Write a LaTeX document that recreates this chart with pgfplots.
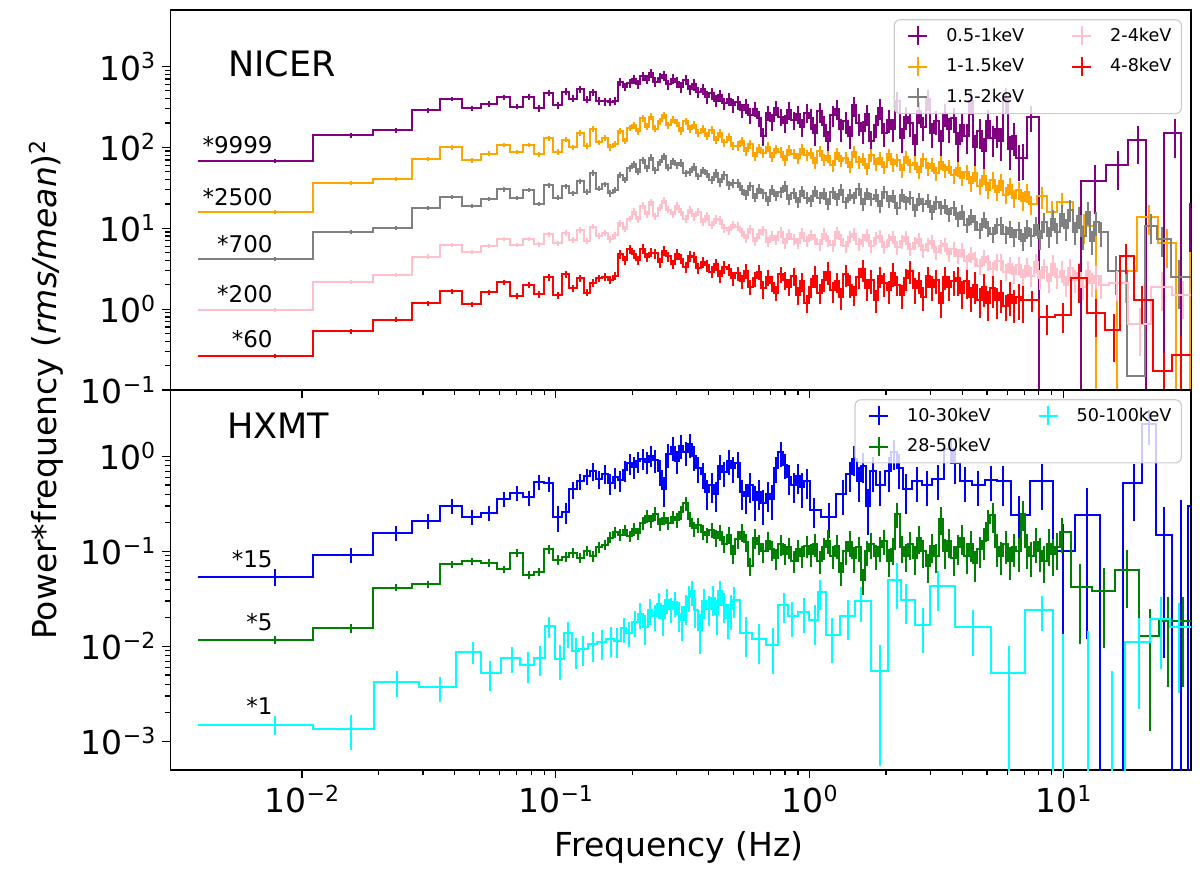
\documentclass[border=0pt]{standalone}
\usepackage{fontspec}
\setmainfont{DejaVu Sans}
\usepackage{pgfplots}
\usepackage{pgfplotstable}
\pgfplotsset{compat=1.18}
\definecolor{mpurple}{HTML}{800080}
\definecolor{morange}{HTML}{FFA500}
\definecolor{mgray}{HTML}{808080}
\definecolor{mpink}{HTML}{FFC0CB}
\definecolor{mred}{HTML}{FF0000}
\definecolor{mblue}{HTML}{0000FF}
\definecolor{mgreen}{HTML}{008000}
\definecolor{mcyan}{HTML}{00FFFF}
\newcommand{\tl}[1]{10\raisebox{0.34em}{\fontsize{11}{12}\selectfont #1}}

\pgfplotsset{
  psd/.style={const plot mark mid, mark=none, line width=1pt, forget plot,
    error bars/y dir=both, error bars/y explicit relative, error bars/error mark=none,
    error bars/error bar style={line width=1pt, solid}},
  negerr/.style={only marks, mark=none, forget plot,
    error bars/y dir=plus, error bars/y explicit, error bars/error mark=none,
    error bars/error bar style={line width=1pt, solid}},
  pluslegend/.style={legend image code/.code={
    \draw[line width=1pt] (0pt,0pt) -- (9.5pt,0pt);
    \draw[line width=1pt] (4.75pt,-4.75pt) -- (4.75pt,4.75pt);
    \path[draw=none, fill=none] (-4pt,0pt) -- (17pt,0pt);}},
}

\pgfplotstableread{
f pu or gr pk rd ra rb
0.0039 68 15.9 4.13 0.98 0.264 0 0
0.0078 68 15.9 4.13 0.98 0.264 0.07 0.06
0.0156 141 36.4 9.0 2.18 0.53 0.07 0.06
0.0234 163 41 10.1 2.64 0.74 0.07 0.06
0.0313 286 72 17.8 4.47 1.19 0.07 0.06
0.0391 398 100 24.4 6.24 1.66 0.07 0.06
0.0469 305 69 18.9 5.15 1.15 0.07 0.06
0.0547 345 84 23.2 6.0 1.61 0.08 0.06
0.0625 416 107 30.3 7.4 2.15 0.08 0.06
0.0703 320 87 23.7 6.2 1.47 0.08 0.06
0.0781 424 107 30 7.4 1.99 0.08 0.06
0.0859 305 82 20 6.3 1.53 0.09 0.07
0.0938 475 129 34 8.5 2.48 0.09 0.07
0.1016 335 88 24 6.5 1.5 0.10 0.08
0.1094 490 125 33 8.8 2.7 0.10 0.08
0.1172 400 100 27 7.2 1.8 0.10 0.08
0.1250 520 150 38 9.5 2.4 0.10 0.08
0.1328 390 105 28 7.0 1.6 0.10 0.08
0.1406 480 170 48 10.5 2.1 0.11 0.08
0.1484 380 115 31 8.0 2.4 0.11 0.08
0.1563 370 130 35 8.8 2.5 0.11 0.08
0.1641 365 100 27 7.3 2.3 0.11 0.09
0.1719 375 110 30 8.2 2.6 0.12 0.09
0.1797 650 160 46 11.5 4.8 0.12 0.09
0.1875 560 120 40 9.8 4.0 0.12 0.09
0.1953 620 175 55 13 5.5 0.12 0.09
0.203 700 190 62 16 4.8 0.13 0.10
0.211 610 160 50 13 4.0 0.13 0.10
0.220 760 230 70 19 5.6 0.13 0.10
0.228 690 180 55 15 4.4 0.13 0.10
0.237 820 240 75 21 5.0 0.13 0.10
0.247 650 170 52 14 4.9 0.14 0.10
0.257 720 210 66 18 3.8 0.14 0.10
0.267 780 250 78 22 5.3 0.14 0.10
0.278 600 190 56 17 4.5 0.14 0.10
0.289 700 220 68 15 3.6 0.14 0.10
0.300 640 200 60 19 4.8 0.15 0.11
0.312 560 160 64 16 4.2 0.15 0.11
0.325 690 210 48 13 3.3 0.15 0.11
0.338 520 170 50 17 4.5 0.15 0.11
0.351 600 190 58 14 4.4 0.16 0.11
0.365 480 150 44 16 3.2 0.16 0.11
0.380 530 170 52 12 3.8 0.16 0.11
0.395 420 140 47 14 3.5 0.17 0.12
0.411 470 165 40 11 2.9 0.17 0.12
0.427 380 125 48 13 3.6 0.17 0.12
0.444 440 150 37 12.5 2.6 0.18 0.12
0.462 350 115 45 10 3.3 0.18 0.12
0.480 400 135 34 9.5 3.1 0.18 0.12
0.500 330 105 36 11 2.4 0.19 0.12
0.520 360 105 36 10.5 2.8 0.20 0.13
0.540 290 120 30 9.0 2.2 0.20 0.13
0.562 330 90 26 7.5 3.0 0.21 0.13
0.584 250 110 33 9.8 1.9 0.22 0.13
0.608 300 78 24 7.0 2.4 0.21 0.13
0.632 230 98 31 8.6 2.9 0.22 0.14
0.657 140 85 27 9.4 1.8 0.25 0.14
0.684 270 102 22 6.8 2.5 0.22 0.14
0.711 210 76 30 8.0 2.1 0.23 0.14
0.739 310 95 25 7.2 1.6 0.22 0.14
0.769 240 88 28 9.0 2.7 0.23 0.15
0.800 200 70 33 6.6 2.3 0.24 0.15
0.832 290 92 23 8.4 1.9 0.24 0.15
0.865 220 84 27 7.4 2.6 0.25 0.15
0.900 260 74 21 6.5 1.5 0.25 0.15
0.936 180 96 29 8.8 2.2 0.26 0.16
0.973 270 80 24 7.0 1.2 0.26 0.16
1.012 230 85 22 8.2 1.9 0.28 0.16
1.053 150 65 29 7.4 2.6 0.30 0.16
1.095 280 90 24 6.3 1.6 0.28 0.16
1.139 190 70 27 8.6 2.3 0.29 0.17
1.184 120 78 20 7.0 2.9 0.32 0.17
1.232 250 60 28 6.2 1.7 0.29 0.17
1.281 300 85 23 8.9 2.2 0.28 0.17
1.332 170 68 30 7.3 1.4 0.31 0.17
1.385 210 75 21 6.0 2.7 0.30 0.17
1.441 140 58 26 7.9 2.0 0.32 0.17
1.499 330 88 24 8.5 1.5 0.28 0.17
1.559 200 66 31 6.4 2.5 0.30 0.18
1.621 160 72 20 7.1 3.1 0.31 0.18
1.686 260 55 27 8.3 1.8 0.30 0.18
1.753 120 80 23 6.1 2.3 0.33 0.18
1.823 190 63 26 7.6 1.3 0.31 0.18
1.896 310 74 19 8.0 2.6 0.29 0.18
1.972 150 57 28 5.9 2.1 0.32 0.18
2.051 220 82 22 7.2 1.7 0.31 0.18
2.133 170 62 25 7.8 2.8 0.32 0.19
2.218 380 70 18 5.8 2.0 0.28 0.19
2.307 130 52 26 6.9 1.5 0.34 0.19
2.399 240 76 21 7.7 2.4 0.31 0.19
2.495 200 60 24 5.6 3.0 0.32 0.19
2.595 110 65 17 6.6 1.8 0.35 0.19
2.699 280 50 23 7.3 2.2 0.31 0.19
2.807 180 72 20 5.4 1.4 0.33 0.20
2.919 400 55 22 6.3 2.6 0.29 0.20
3.036 150 62 16 6.9 1.9 0.34 0.20
3.157 210 48 21 5.1 2.3 0.33 0.20
3.283 120 66 18 6.0 1.2 0.36 0.20
3.415 260 52 19 6.4 2.5 0.32 0.20
3.551 170 58 15 4.8 1.9 0.34 0.20
3.693 230 45 18 5.6 2.2 0.34 0.21
3.841 110 55 13 4.6 2.4 0.40 0.21
3.995 190 42 16 5.4 1.6 0.38 0.21
4.155 140 50 11 3.9 2.2 0.40 0.21
4.321 380 36 14 4.8 1.4 0.34 0.22
4.494 100 48 12 4.2 2.0 0.42 0.22
4.673 160 33 9.5 3.4 1.3 0.40 0.22
4.860 90 44 13 4.4 1.9 0.44 0.22
5.055 210 30 10 3.8 1.2 0.40 0.23
5.257 130 40 8.5 3.1 1.8 0.42 0.23
5.467 170 28 11 3.9 1.3 0.42 0.23
5.686 120 38 11 3.9 1.6 0.44 0.24
5.913 400 26 8.5 2.9 1.1 0.35 0.24
6.150 95 34 10 3.6 1.5 0.45 0.24
6.396 140 24 7.8 2.7 1.2 0.44 0.25
6.652 73 30 9.5 3.5 1.4 0.48 0.25
6.918 75 22 7 2.5 1.3 0.48 0.26
7.195 nan 28 10 3.4 nan 0.4 0.26
7.482 nan 20 8 2.6 nan 0.4 0.27
7.782 nan nan 11 3.8 nan 0.4 0.27
8.093 nan nan 7.5 2.4 nan 0.4 0.28
8.417 nan nan 12 3.3 nan 0.4 0.28
8.753 nan nan 8 2.2 nan 0.4 0.28
9.104 nan nan 13 3.6 nan 0.4 0.29
9.468 nan nan 9 2.5 nan 0.4 0.29
9.846 nan nan 15 3.0 nan 0.4 0.30
10.24 nan nan 10 2.0 nan 0.4 0.30
10.65 nan nan 17 3.2 nan 0.4 0.30
11.08 nan nan 9 2.3 nan 0.4 0.31
11.52 nan nan 14 2.8 nan 0.4 0.31
11.98 nan nan 8 1.9 nan 0.4 0.32
12.46 nan nan 16 3.0 nan 0.4 0.32
12.96 nan nan 7 2.1 nan 0.4 0.33
13.48 nan nan 12 2.6 nan 0.4 0.33
14.02 nan nan 9 2.0 nan 0.4 0.34
}\nicer

\pgfplotstableread{
f y r
6.918 75 0
7.45 240 0.35
8.6 0.001 0
10.4 0.001 0
13.3 38 0.6
16.4 60 0.5
19.7 123 0.5
22.8 0.001 0
27.4 149 0.5
30.6 0.001 0
32.5 20 0
}\putail
\pgfplotstableread{
f y r
7.482 20 0
8.2 25 0.3
9.0 16 0.35
9.9 21 0.3
12.1 10.7 0.4
15.0 0.001 0
17.6 3.0 0.6
21.7 13.8 0.4
25.5 6.5 0.5
30.0 0.001 0
33 5 0
}\ortail
\pgfplotstableread{
f y r
14.02 9 0
16.1 3.0 0.5
19.6 0.15 0
22.2 10.7 0.4
24.5 7.4 0.4
28.5 2.5 0.6
33 2.5 0
}\grtail
\pgfplotstableread{
f y r
14.02 2.0 0
16.2 2.1 0.4
20.0 0.65 0.6
24.5 1.9 0.5
29.5 1.5 0.5
33 1.5 0
}\pktail
\pgfplotstableread{
f y r
6.918 1.3 0
7.5 1.3 0.3
8.6 0.8 0.4
10.0 0.85 0.4
11.5 2.4 0.5
13.4 0.9 0.5
15.8 0.55 0.6
17.6 4.5 0.4
20.3 1.3 0.5
24.8 0.17 0.7
29.0 0.27 0.7
33 0.27 0
}\rdtail

\pgfplotstableread{
f y r
0.0039 0.054 0
0.0078 0.054 0.2
0.0156 0.092 0.18
0.0234 0.156 0.18
0.0313 0.211 0.18
0.0391 0.30 0.18
0.0469 0.233 0.18
0.0547 0.255 0.18
0.0625 0.36 0.18
0.0703 0.41 0.18
0.0781 0.37 0.18
0.0859 0.54 0.18
0.0938 0.52 0.18
0.1016 0.23 0.3
0.1094 0.26 0.25
0.1172 0.45 0.2
0.1250 0.55 0.2
0.1328 0.62 0.2
0.1406 0.7 0.22
0.1484 0.58 0.22
0.1563 0.66 0.22
0.1641 0.52 0.25
0.1719 0.6 0.25
0.1797 0.56 0.25
0.1875 0.72 0.25
0.1953 0.85 0.25
0.203 0.78 0.25
0.211 0.9 0.25
0.220 0.95 0.25
0.228 0.88 0.25
0.237 1.02 0.25
0.247 0.92 0.28
0.257 0.7 0.3
0.267 0.45 0.35
0.278 1.05 0.28
0.289 1.25 0.28
0.300 0.9 0.28
0.312 1.3 0.28
0.325 1.1 0.28
0.338 1.35 0.28
0.351 1.0 0.3
0.365 0.75 0.3
0.380 0.65 0.3
0.395 0.42 0.35
0.411 0.5 0.35
0.427 0.4 0.35
0.444 0.8 0.3
0.462 0.68 0.3
0.480 0.9 0.3
0.500 0.75 0.3
0.520 0.85 0.3
0.540 0.42 0.35
0.562 0.38 0.35
0.584 0.5 0.35
0.608 0.35 0.4
0.632 0.42 0.35
0.657 0.32 0.4
0.684 0.4 0.35
0.711 0.36 0.4
0.739 0.75 0.3
0.769 1.1 0.3
0.800 0.82 0.3
0.832 0.6 0.35
0.865 0.5 0.35
0.900 0.62 0.35
0.936 0.48 0.4
0.973 0.55 0.35
1.04 0.27 0.35
1.19 0.23 0.4
1.35 0.4 0.4
1.44 0.65 0.35
1.5 0.95 0.35
1.57 0.55 0.4
1.63 0.8 0.35
1.7 0.3 0.5
1.77 0.7 0.4
1.9 0.5 0.4
2.05 0.7 0.4
2.15 1.1 0.35
2.25 0.75 0.4
2.4 0.45 0.45
2.65 0.55 0.4
2.9 0.5 0.4
3.2 0.58 0.4
3.6 1.2 0.3
3.75 0.85 0.4
4.1 0.55 0.4
4.6 0.5 0.4
5.2 0.56 0.4
5.8 0.55 0.45
6.7 0.24 0.6
8.2 0.55 0.5
10.0 0.1 0.95
12.4 0.24 0.95
15.6 0.00001 0
19.0 0.52 0.6
21.7 2.2 0.4
24.8 0.15 0.95
29.0 0.00001 0
33 0.3 0
}\blue

\pgfplotstableread{
f y r
0.0039 0.0118 0
0.0078 0.0118 0.1
0.0156 0.0155 0.1
0.0234 0.0416 0.08
0.0313 0.045 0.08
0.0391 0.073 0.08
0.0469 0.079 0.08
0.0547 0.076 0.09
0.0625 0.065 0.09
0.0703 0.097 0.1
0.0781 0.057 0.1
0.0859 0.061 0.1
0.0938 0.105 0.1
0.1016 0.082 0.12
0.1094 0.088 0.12
0.1172 0.097 0.12
0.1250 0.086 0.12
0.1328 0.102 0.12
0.1406 0.09 0.13
0.1484 0.11 0.13
0.1563 0.118 0.13
0.1641 0.14 0.13
0.1719 0.16 0.13
0.1797 0.15 0.14
0.1875 0.168 0.14
0.1953 0.145 0.14
0.203 0.172 0.15
0.211 0.155 0.15
0.220 0.2 0.15
0.228 0.235 0.15
0.237 0.21 0.15
0.247 0.25 0.16
0.257 0.195 0.16
0.267 0.225 0.16
0.278 0.2 0.16
0.289 0.23 0.16
0.300 0.215 0.17
0.312 0.26 0.17
0.325 0.32 0.17
0.338 0.22 0.17
0.351 0.175 0.18
0.365 0.19 0.18
0.380 0.16 0.18
0.395 0.15 0.18
0.411 0.17 0.18
0.427 0.14 0.2
0.444 0.16 0.2
0.462 0.12 0.2
0.480 0.15 0.2
0.500 0.095 0.22
0.520 0.135 0.22
0.540 0.16 0.22
0.562 0.125 0.22
0.584 0.07 0.22
0.608 0.14 0.24
0.632 0.12 0.24
0.657 0.1 0.24
0.684 0.13 0.24
0.711 0.105 0.24
0.739 0.085 0.25
0.769 0.12 0.25
0.800 0.095 0.25
0.832 0.11 0.25
0.865 0.08 0.25
0.900 0.105 0.26
0.936 0.09 0.26
0.973 0.115 0.26
1.012 0.095 0.27
1.053 0.12 0.27
1.095 0.08 0.27
1.139 0.11 0.27
1.184 0.13 0.28
1.232 0.09 0.28
1.281 0.115 0.28
1.332 0.06 0.28
1.385 0.1 0.28
1.441 0.125 0.3
1.499 0.085 0.3
1.559 0.11 0.3
1.621 0.05 0.3
1.686 0.1 0.3
1.753 0.12 0.3
1.823 0.09 0.3
1.896 0.11 0.3
1.972 0.13 0.3
2.051 0.08 0.32
2.133 0.105 0.32
2.218 0.25 0.3
2.307 0.11 0.32
2.399 0.09 0.32
2.495 0.12 0.32
2.595 0.085 0.33
2.699 0.14 0.33
2.807 0.1 0.33
2.919 0.07 0.34
3.036 0.115 0.34
3.157 0.09 0.34
3.283 0.22 0.32
3.415 0.1 0.34
3.551 0.13 0.34
3.693 0.085 0.35
3.841 0.11 0.35
3.995 0.14 0.35
4.155 0.09 0.36
4.321 0.12 0.36
4.494 0.075 0.36
4.673 0.105 0.36
4.860 0.13 0.37
5.055 0.2 0.35
5.257 0.24 0.35
5.467 0.11 0.37
5.686 0.09 0.38
5.913 0.12 0.38
6.150 0.08 0.38
6.396 0.11 0.38
6.652 0.1 0.4
6.918 0.25 0.35
7.195 0.11 0.4
7.482 0.09 0.4
7.782 0.125 0.4
8.093 0.1 0.4
8.417 0.08 0.42
8.753 0.12 0.42
9.104 0.095 0.42
9.468 0.11 0.42
9.846 0.16 0.4
11.6 0.0426 0.75
14.4 0.0385 0.75
17.8 0.064 0.6
22.0 0.0129 0.9
25.7 0.0186 0.8
29.5 0.0186 0.8
33 0.0186 0
}\green

\pgfplotstableread{
f y r
0.0039 0.0015 0
0.0078 0.0015 0.22
0.0156 0.00134 0.4
0.0237 0.0042 0.3
0.035 0.0037 0.3
0.047 0.0088 0.25
0.055 0.0052 0.35
0.067 0.0075 0.3
0.078 0.0064 0.35
0.087 0.0075 0.35
0.094 0.0164 0.25
0.104 0.0074 0.4
0.112 0.0138 0.3
0.12 0.009 0.35
0.128 0.0095 0.35
0.14 0.0105 0.35
0.152 0.011 0.35
0.165 0.012 0.35
0.175 0.0115 0.35
0.185 0.0155 0.3
0.195 0.014 0.3
0.205 0.018 0.3
0.215 0.022 0.3
0.225 0.016 0.35
0.235 0.024 0.3
0.245 0.021 0.3
0.255 0.028 0.3
0.265 0.02 0.35
0.275 0.031 0.3
0.285 0.025 0.3
0.295 0.029 0.3
0.305 0.022 0.35
0.315 0.019 0.4
0.325 0.026 0.35
0.335 0.033 0.3
0.345 0.038 0.3
0.355 0.024 0.35
0.37 0.015 0.45
0.385 0.03 0.35
0.40 0.025 0.35
0.415 0.032 0.35
0.43 0.022 0.4
0.445 0.038 0.3
0.46 0.027 0.35
0.475 0.02 0.4
0.49 0.025 0.4
0.505 0.031 0.35
0.56 0.014 0.45
0.63 0.012 0.45
0.715 0.0103 0.5
0.79 0.027 0.35
0.85 0.021 0.4
0.95 0.023 0.4
1.05 0.019 0.45
1.1 0.037 0.35
1.23 0.0133 0.5
1.42 0.021 0.45
1.6 0.03 0.4
1.9 0.0055 0.9
2.2 0.05 0.5
2.4 0.031 0.45
2.8 0.017 0.5
3.2 0.043 0.45
4.4 0.016 0.5
6.1 0.0052 0.95
8.2 0.024 0.4
10.0 0.00001 0
12.5 0.00001 0
15.5 0.00001 0
19.8 0.011 0.8
24.3 0.0194 0.7
28.5 0.016 0.8
33 0.016 0
}\cyan

\pgfplotstableread{
f y e
10.0 0.00001 0.0134
12.5 0.00001 0.0145
15.5 0.00001 0.0055
}\cyanneg
\pgfplotstableread{
f y e
29.0 0.00001 0.35
}\blueneg

\begin{document}
\begin{tikzpicture}
\useasboundingbox (0,0) rectangle (600pt,440pt);
% ---------------- NICER ----------------
\begin{axis}[scale only axis, width=510.35pt, height=190pt,
  at={(85.15pt,245pt)}, anchor=south west,
  xmode=log, ymode=log, xmin=0.00303, xmax=31.8,
  ymin=0.1, ymax=5000,
  tick pos=left, tick align=outside,
  major tick length=4pt, minor tick length=2.5pt,
  tick style={black, line width=0.6pt},
  axis line style={line width=0.7pt},
  tick label style={font=\fontsize{16.5}{19}\selectfont},
  xtick={0.01,0.1,1,10}, xticklabels={,,,},
  ytick={0.1,1,10,100,1000},
  yticklabels={\tl{−1},\tl{0},\tl{1},\tl{2},\tl{3}},
  legend columns=2, legend cell align=left,
  legend style={at={(0.9912,0.976)}, anchor=north east,
    font=\fontsize{8.8}{10}\selectfont, draw=black!20, line width=0.6pt,
    rounded corners=3pt, fill=white, fill opacity=0.8, draw opacity=1,
    text opacity=1, inner xsep=3pt, inner ysep=2pt, row sep=3.2pt,
    /tikz/every even column/.append style={column sep=18pt}},
  ]
\addlegendimage{mpurple, pluslegend}\addlegendentry{0.5-1keV}
\addlegendimage{mpink, pluslegend}\addlegendentry{2-4keV}
\addlegendimage{morange, pluslegend}\addlegendentry{1-1.5keV}
\addlegendimage{mred, pluslegend}\addlegendentry{4-8keV}
\addlegendimage{mgray, pluslegend}\addlegendentry{1.5-2keV}
\addplot[mpurple, psd] table[x=f, y=pu, y error=ra] {\nicer};
\addplot[mpurple, psd] table[x=f, y=y, y error=r] {\putail};
\addplot[morange, psd] table[x=f, y=or, y error=rb] {\nicer};
\addplot[morange, psd] table[x=f, y=y, y error=r] {\ortail};
\addplot[mgray, psd] table[x=f, y=gr, y error=rb] {\nicer};
\addplot[mgray, psd] table[x=f, y=y, y error=r] {\grtail};
\addplot[mpink, psd] table[x=f, y=pk, y error=rb] {\nicer};
\addplot[mpink, psd] table[x=f, y=y, y error=r] {\pktail};
\addplot[mred, psd] table[x=f, y=rd, y error=ra] {\nicer};
\addplot[mred, psd] table[x=f, y=y, y error=r] {\rdtail};
\node[anchor=west, inner sep=0pt, font=\fontsize{17.5}{20}\selectfont] at (rel axis cs:0.0565,0.858) {NICER};
\node[anchor=base east, inner sep=0pt, font=\fontsize{11.5}{13}\selectfont] at (rel axis cs:0.1006,0.6216) {*9999};
\node[anchor=base east, inner sep=0pt, font=\fontsize{11.5}{13}\selectfont] at (rel axis cs:0.1006,0.4857) {*2500};
\node[anchor=base east, inner sep=0pt, font=\fontsize{11.5}{13}\selectfont] at (rel axis cs:0.1006,0.3614) {*700};
\node[anchor=base east, inner sep=0pt, font=\fontsize{11.5}{13}\selectfont] at (rel axis cs:0.1006,0.2300) {*200};
\node[anchor=base east, inner sep=0pt, font=\fontsize{11.5}{13}\selectfont] at (rel axis cs:0.1006,0.1117) {*60};
\end{axis}
% ---------------- HXMT ----------------
\begin{axis}[scale only axis, width=510.35pt, height=190pt,
  at={(85.15pt,55pt)}, anchor=south west,
  xmode=log, ymode=log, xmin=0.00303, xmax=31.8,
  ymin=0.0005, ymax=5,
  tick pos=left, tick align=outside,
  major tick length=4pt, minor tick length=2.5pt,
  tick style={black, line width=0.6pt},
  axis line style={line width=0.7pt},
  tick label style={font=\fontsize{16.5}{19}\selectfont},
  xtick={0.01,0.1,1,10},
  xticklabels={\tl{−2},\tl{−1},\tl{0},\tl{1}},
  ytick={0.001,0.01,0.1,1},
  yticklabels={\tl{−3},\tl{−2},\tl{−1},\tl{0}},
  legend columns=2, legend cell align=left,
  legend style={at={(0.9912,0.976)}, anchor=north east,
    font=\fontsize{8.8}{10}\selectfont, draw=black!20, line width=0.6pt,
    rounded corners=3pt, fill=white, fill opacity=0.8, draw opacity=1,
    text opacity=1, inner xsep=3pt, inner ysep=2pt, row sep=3.2pt,
    /tikz/every even column/.append style={column sep=18pt}},
  ]
\addlegendimage{mblue, pluslegend}\addlegendentry{10-30keV}
\addlegendimage{mcyan, pluslegend}\addlegendentry{50-100keV}
\addlegendimage{mgreen, pluslegend}\addlegendentry{28-50keV}
\addplot[mblue, psd] table[x=f, y=y, y error=r] {\blue};
\addplot[mblue, negerr] table[x=f, y=y, y error=e] {\blueneg};
\addplot[mgreen, psd] table[x=f, y=y, y error=r] {\green};
\addplot[mcyan, psd] table[x=f, y=y, y error=r] {\cyan};
\addplot[mcyan, negerr] table[x=f, y=y, y error=e] {\cyanneg};
\node[anchor=west, inner sep=0pt, font=\fontsize{17.5}{20}\selectfont] at (rel axis cs:0.0555,0.906) {HXMT};
\node[anchor=base east, inner sep=0pt, font=\fontsize{11.5}{13}\selectfont] at (rel axis cs:0.1006,0.534) {*15};
\node[anchor=base east, inner sep=0pt, font=\fontsize{11.5}{13}\selectfont] at (rel axis cs:0.1006,0.368) {*5};
\node[anchor=base east, inner sep=0pt, font=\fontsize{11.5}{13}\selectfont] at (rel axis cs:0.1006,0.147) {*1};
\end{axis}
\node[rotate=90, font=\fontsize{16.5}{19}\selectfont] at (23pt,245pt)
  {Power*frequency (\textit{rms/mean})\raisebox{0.34em}{\fontsize{11}{12}\selectfont 2}};
\node[anchor=base, font=\fontsize{16.5}{19}\selectfont] at (339.5pt,12pt) {Frequency (Hz)};
\end{tikzpicture}
\end{document}
